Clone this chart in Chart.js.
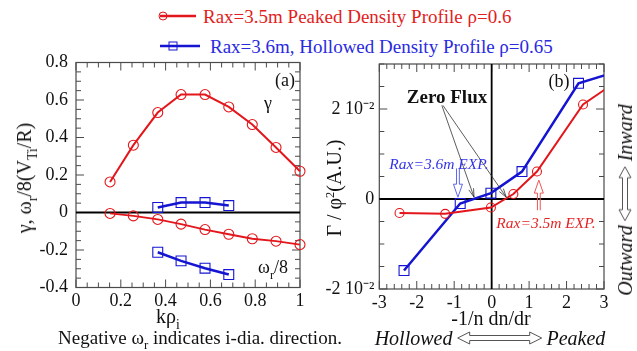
<!DOCTYPE html>
<html>
<head>
<meta charset="utf-8">
<script src="https://cdn.jsdelivr.net/npm/chart.js@4.4.1/dist/chart.umd.min.js"></script>
<style>
  html, body { margin: 0; padding: 0; background: #fff; }
  #page { position: relative; width: 637px; height: 351px; overflow: hidden;
          font-family: 'Liberation Serif', 'Times New Roman', 'DejaVu Serif', serif; color: #111; }
  .box { position: absolute; }
  .lbl { position: absolute; white-space: nowrap; line-height: 1; transform: translate(-50%, -50%); }
  .rot { transform: translate(-50%, -50%) rotate(-90deg); }
  .lbl sub { font-size: 68%; vertical-align: -0.45em; line-height: 0; }
  .lbl sup { font-size: 62%; vertical-align: 0.6em; line-height: 0; }
  .it { font-style: italic; }
  .arr { display: inline-block; vertical-align: middle; margin: 0 4px; }
</style>
</head>
<body>
<div id="page">
  <!-- legend -->
  <svg class="box" style="left:0;top:0" width="637" height="60">
    <line x1="160" y1="16" x2="196" y2="16" stroke="#e3161b" stroke-width="2.5"/>
    <circle cx="163" cy="16" r="4" fill="none" stroke="#e3161b" stroke-width="1"/>
    <line x1="160" y1="46" x2="200" y2="46" stroke="#1414d2" stroke-width="2.5"/>
    <rect x="169" y="42" width="8" height="8" fill="none" stroke="#1414d2" stroke-width="1"/>
  </svg>
  <div class="lbl" style="left:203px;top:16px;transform:translate(0,-50%);font-size:19px;color:#e11d1d">Rax=3.5m Peaked Density Profile ρ=0.6</div>
  <div class="lbl" style="left:210px;top:46px;transform:translate(0,-50%);font-size:19px;color:#2a2adf">Rax=3.6m, Hollowed Density Profile ρ=0.65</div>

  <div class="box" style="left:0;top:40px;width:320px;height:300px"><canvas id="cA" width="320" height="300"></canvas></div>
  <div class="box" style="left:320px;top:40px;width:317px;height:300px"><canvas id="cB" width="317" height="300"></canvas></div>

  <!-- panel (a) texts -->
  <div class="lbl rot" style="left:24px;top:178px;font-size:20px">γ, ω<sub>r</sub>/8(V<sub>Ti</sub>/R)</div>
  <div class="lbl" style="left:285px;top:80px;font-size:18px">(a)</div>
  <div class="lbl" style="left:268px;top:103px;font-size:18px">γ</div>
  <div class="lbl" style="left:273px;top:267px;font-size:18px">ω<sub>r</sub>/8</div>
  <div class="lbl" style="left:168px;top:316px;font-size:20px">kρ<sub>i</sub></div>
  <div class="lbl" style="left:200px;top:337px;font-size:19px">Negative ω<sub>r</sub> indicates i-dia. direction.</div>

  <!-- panel (b) texts -->
  <div class="lbl rot" style="left:334px;top:188px;font-size:20px">Γ / φ<sup>2</sup>(A.U.)</div>
  <div class="lbl" style="left:559px;top:81px;font-size:18px">(b)</div>
  <div class="lbl" style="left:447px;top:96px;font-size:19px;font-weight:bold">Zero Flux</div>
  <div class="lbl it" style="left:439px;top:164px;font-size:15.5px;color:#3434e6">Rax=3.6m EXP.</div>
  <div class="lbl it" style="left:546px;top:223px;font-size:15.5px;color:#e52424">Rax=3.5m EXP.</div>
  <div class="lbl" style="left:491px;top:318px;font-size:20px">-1/n dn/dr</div>
  <div class="lbl it" style="left:490px;top:338px;font-size:20px;display:flex;align-items:center">Hollowed<svg class="arr" width="86" height="14"><path d="M1,7 L13,1 L13,4.5 L73,4.5 L73,1 L85,7 L73,13 L73,9.5 L13,9.5 L13,13 Z" fill="none" stroke="#555" stroke-width="1"/></svg>Peaked</div>
  <div class="lbl it rot" style="left:625px;top:200px;font-size:20px;display:flex;align-items:center">Outward<svg class="arr" width="56" height="14"><path d="M1,7 L12,1 L12,4.5 L44,4.5 L44,1 L55,7 L44,13 L44,9.5 L12,9.5 L12,13 Z" fill="none" stroke="#555" stroke-width="1"/></svg>Inward</div>
</div>

<script>
'use strict';

/* ─── Data: panel (a) growth rate / real frequency vs k·rho_i ───── */
const kPeaked      = [0.152, 0.256, 0.365, 0.469, 0.576, 0.682, 0.787, 0.893, 1.0];
const gammaPeaked  = [0.163, 0.359, 0.533, 0.629, 0.629, 0.563, 0.469, 0.347, 0.220];
const omegaPeaked  = [-0.005, -0.018, -0.037, -0.062, -0.091, -0.116, -0.140, -0.153, -0.171];
const kHollow      = [0.365, 0.469, 0.576, 0.682];
const gammaHollow  = [0.027, 0.053, 0.053, 0.037];
const omegaHollow  = [-0.212, -0.258, -0.297, -0.331];

/* ─── Data: panel (b) particle flux vs density gradient ─────────── */
const gradPeaked   = [-2.46, -1.24, -0.02, 0.58, 1.21, 2.44, 3.3];
const fluxPeaked   = [-0.0031, -0.0033, -0.0019, 0.0011, 0.0061, 0.0210, 0.0259];
const gradHollow   = [-2.34, -0.84, -0.02, 0.81, 2.32, 3.3];
const fluxHollow   = [-0.0159, -0.0010, 0.0013, 0.0061, 0.0257, 0.0282];

/* ─── Axis tick setup ───────────────────────────────────────────── */
const axisA = { xMin: 0, xMax: 1, xStep: 0.2, xMinor: 0.05, yMin: -0.4, yMax: 0.8, yStep: 0.2, yMinor: 0.05 };
const axisB = { xMin: -3, xMax: 3, xStep: 1, xMinor: 0.2, yMin: -0.02, yMax: 0.03, yStep: 0.01, yMinor: 0.005 };
const fluxLabels = { '-0.02': '-2 10⁻²', '0': '0', '0.02': '2 10⁻²' };

const RED = '#e3161b', BLUE = '#1414d2';
const FONT = { family: "'Liberation Serif', 'Times New Roman', serif", size: 18 };

const pts = (xs, ys) => xs.map((x, i) => ({ x, y: ys[i] }));

function series(xs, ys, color, shape, r, lw) {
  return {
    data: pts(xs, ys),
    borderColor: color, borderWidth: lw,
    pointStyle: shape, pointRadius: r, pointBorderWidth: 1.1,
    pointBorderColor: color, pointBackgroundColor: 'rgba(0,0,0,0)',
    pointHoverRadius: r, tension: 0, fill: false
  };
}

/* ─── Frame, inward ticks (major + minor), zero lines ──────────── */
const framePlugin = {
  id: 'frame',
  beforeDatasetsDraw(chart, args, o) {
    const { ctx, chartArea: a, scales: { x, y } } = chart;
    ctx.save();
    ctx.strokeStyle = '#4a4a4a';
    ctx.lineWidth = 1.2;
    ctx.strokeRect(a.left, a.top, a.right - a.left, a.bottom - a.top);
    ctx.lineWidth = 1;
    const tick = (min, max, minor, major, draw) => {
      const n = Math.round((max - min) / minor);
      for (let i = 0; i <= n; i++) {
        const v = min + i * minor;
        const big = Math.abs(v / major - Math.round(v / major)) < 1e-6;
        draw(v, big ? 8 : 5);
      }
    };
    ctx.beginPath();
    tick(x.min, x.max, o.xMinor, o.xMajor, (v, L) => {
      const px = x.getPixelForValue(v);
      ctx.moveTo(px, a.bottom); ctx.lineTo(px, a.bottom - L);
      ctx.moveTo(px, a.top);    ctx.lineTo(px, a.top + L);
    });
    tick(y.min, y.max, o.yMinor, o.yMajor, (v, L) => {
      const py = y.getPixelForValue(v);
      ctx.moveTo(a.left, py);  ctx.lineTo(a.left + L, py);
      ctx.moveTo(a.right, py); ctx.lineTo(a.right - L, py);
    });
    ctx.stroke();
    // zero lines
    ctx.strokeStyle = '#000';
    ctx.lineWidth = 1.8;
    ctx.beginPath();
    const y0 = y.getPixelForValue(0);
    ctx.moveTo(a.left, y0); ctx.lineTo(a.right, y0);
    if (o.vZero) {
      const x0 = x.getPixelForValue(0);
      ctx.moveTo(x0, a.top); ctx.lineTo(x0, a.bottom);
    }
    ctx.stroke();
    ctx.restore();
  }
};

/* ─── Annotation arrows in panel (b) ───────────────────────────── */
function openArrow(ctx, x1, y1, x2, y2) {
  const ang = Math.atan2(y2 - y1, x2 - x1), L = 9, w = 0.28;
  ctx.moveTo(x1, y1); ctx.lineTo(x2, y2);
  ctx.moveTo(x2 - L * Math.cos(ang - w), y2 - L * Math.sin(ang - w));
  ctx.lineTo(x2, y2);
  ctx.lineTo(x2 - L * Math.cos(ang + w), y2 - L * Math.sin(ang + w));
}
function hollowArrow(ctx, x, yFrom, yTip, color) {
  const dir = Math.sign(yTip - yFrom), hl = 13, hw = 4.5, sw = 1.4;
  const yb = yTip - dir * hl;
  ctx.beginPath();
  ctx.moveTo(x - sw, yFrom); ctx.lineTo(x - sw, yb); ctx.lineTo(x - hw, yb);
  ctx.lineTo(x, yTip);
  ctx.lineTo(x + hw, yb); ctx.lineTo(x + sw, yb); ctx.lineTo(x + sw, yFrom);
  ctx.strokeStyle = color; ctx.lineWidth = 1;
  ctx.stroke();
}
const arrowPlugin = {
  id: 'arrows',
  afterDatasetsDraw(chart) {
    const { ctx, scales: { x, y } } = chart;
    const X = v => x.getPixelForValue(v), Y = v => y.getPixelForValue(v);
    ctx.save();
    ctx.strokeStyle = '#333'; ctx.lineWidth = 0.8;
    ctx.beginPath();
    openArrow(ctx, X(-1.33), Y(0.0208), X(-0.47), Y(0.0004));
    openArrow(ctx, X(-1.30), Y(0.0208), X(0.39), Y(0.0004));
    ctx.stroke();
    hollowArrow(ctx, X(-0.9), Y(0.0068), Y(0.0004), '#5b64ee');
    hollowArrow(ctx, X(1.26), Y(-0.0025), Y(0.0042), '#ee5555');
    ctx.restore();
  }
};

function baseOptions(ax, pad, yWidth, xHeight, yFmt, xFmt, yPad) {
  return {
    responsive: false, animation: false, devicePixelRatio: 1,
    layout: { padding: pad },
    plugins: { legend: { display: false }, tooltip: { enabled: false },
      frame: { xMinor: ax.xMinor, xMajor: ax.xStep, yMinor: ax.yMinor, yMajor: ax.yMinorMajor || ax.yStep, vZero: ax.vZero } },
    scales: {
      x: { type: 'linear', min: ax.xMin, max: ax.xMax,
           grid: { display: false, drawTicks: false }, border: { display: false },
           ticks: { stepSize: ax.xStep, padding: 3, color: '#111', font: FONT, maxRotation: 0, autoSkip: false, callback: xFmt },
           afterFit: s => { s.height = xHeight; } },
      y: { type: 'linear', min: ax.yMin, max: ax.yMax,
           grid: { display: false, drawTicks: false }, border: { display: false },
           ticks: { stepSize: ax.yStep, padding: yPad, color: '#111', font: FONT, autoSkip: false, callback: yFmt },
           afterFit: s => { s.width = yWidth; } }
    }
  };
}

const fmtA = v => Math.abs(v) < 1e-9 ? '0' : (Math.abs(v - 1) < 1e-9 ? '1' : v.toFixed(1));

/* panel (a) */
new Chart(document.getElementById('cA'), {
  type: 'line',
  data: { datasets: [
    { ...series(kPeaked, gammaPeaked, RED, 'circle', 5, 2), clip: false },
    { ...series(kPeaked, omegaPeaked, RED, 'circle', 5, 1.8), clip: false },
    { ...series(kHollow, gammaHollow, BLUE, 'rect', 7, 2.5), clip: false },
    { ...series(kHollow, omegaHollow, BLUE, 'rect', 7, 2.5), clip: false }
  ] },
  options: baseOptions(axisA, { top: 22.5, right: 20, left: 0, bottom: 0 }, 76, 52.5, fmtA, fmtA, 8),
  plugins: [framePlugin]
});

/* panel (b) */
new Chart(document.getElementById('cB'), {
  type: 'line',
  data: { datasets: [
    { ...series(gradPeaked, fluxPeaked, RED, 'circle', 4.5, 2), clip: 0 },
    { ...series(gradHollow, fluxHollow, BLUE, 'rect', 7, 2.5), clip: 0 }
  ] },
  options: baseOptions({ ...axisB, yMinorMajor: 0.02, vZero: true }, { top: 24, right: 33, left: 0, bottom: 0 }, 59.3, 51,
    v => { const k = String(Math.round(v * 100) / 100); return fluxLabels[k] || ''; },
    v => String(Math.round(v)), 5),
  plugins: [framePlugin, arrowPlugin]
});
</script>
</body>
</html>
